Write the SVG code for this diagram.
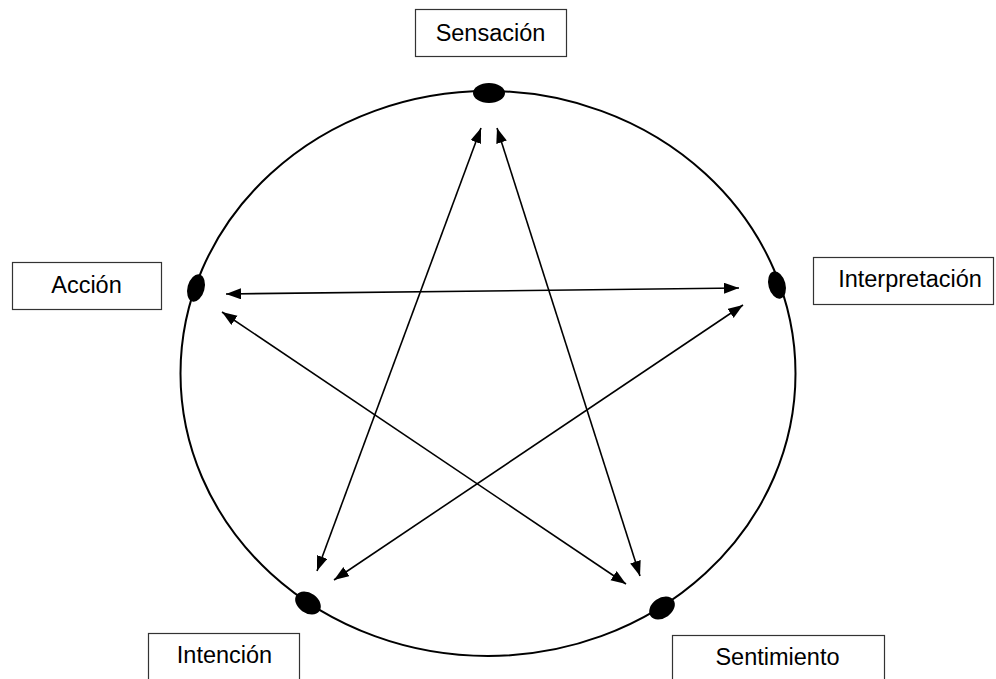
<svg xmlns="http://www.w3.org/2000/svg" width="996" height="679" viewBox="0 0 996 679">
<style>
.box{fill:#fff;stroke:#333;stroke-width:1.2}
.lbl{font-family:"Liberation Sans",Arial,sans-serif;font-size:23.5px;fill:#000;text-anchor:middle}
.dot{fill:#000}
.arr{stroke:#000;stroke-width:1.6;fill:none;marker-start:url(#ah);marker-end:url(#ah)}
</style>
<defs>
<marker id="ah" markerUnits="userSpaceOnUse" markerWidth="16" markerHeight="12" refX="15" refY="5.5" orient="auto-start-reverse">
<path d="M0,0 L15,5.5 L0,11 z" fill="#000"/>
</marker>
</defs>
<rect width="996" height="679" fill="#fff"/>
<ellipse cx="488" cy="373.5" rx="307.5" ry="282.5" fill="none" stroke="#000" stroke-width="2"/>
<g id="connectors">
<line class="arr" x1="481" y1="128" x2="317" y2="571"/>
<line class="arr" x1="497" y1="128" x2="640" y2="576"/>
<line class="arr" x1="226" y1="294" x2="739" y2="288"/>
<line class="arr" x1="222" y1="312" x2="626" y2="584"/>
<line class="arr" x1="743" y1="305" x2="334" y2="580"/>
</g>
<g id="sensacion">
<ellipse class="dot" cx="489" cy="93" rx="16" ry="10"/>
<rect class="box" x="415.5" y="9.5" width="151" height="47"/>
<text class="lbl" x="490.5" y="41">Sensación</text>
</g>
<g id="accion">
<ellipse class="dot" cx="196" cy="288" rx="8.5" ry="14" transform="rotate(15 196 288)"/>
<rect class="box" x="12.5" y="262.5" width="149" height="47"/>
<text class="lbl" x="86.5" y="293">Acción</text>
</g>
<g id="interpretacion">
<ellipse class="dot" cx="777" cy="285" rx="8.5" ry="14" transform="rotate(-15 777 285)"/>
<rect class="box" x="813.5" y="257.5" width="180" height="47"/>
<text class="lbl" x="910" y="287">Interpretación</text>
</g>
<g id="intencion">
<ellipse class="dot" cx="308" cy="603" rx="14" ry="10" transform="rotate(35 308 603)"/>
<rect class="box" x="148.5" y="633.5" width="151" height="60"/>
<text class="lbl" x="224.5" y="663">Intención</text>
</g>
<g id="sentimiento">
<ellipse class="dot" cx="662" cy="608" rx="14" ry="10" transform="rotate(-35 662 608)"/>
<rect class="box" x="672.5" y="635.5" width="212" height="60"/>
<text class="lbl" x="777.5" y="665">Sentimiento</text>
</g>
</svg>
